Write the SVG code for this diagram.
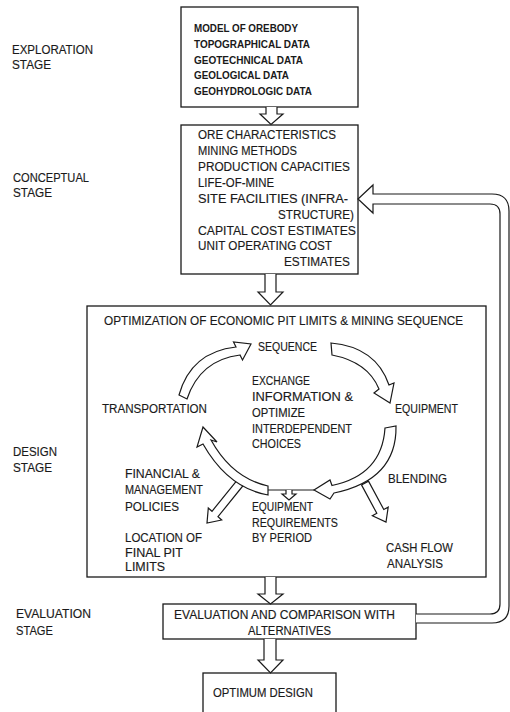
<svg xmlns="http://www.w3.org/2000/svg" width="510" height="712" viewBox="0 0 510 712">
<style>
.bg{fill:#fff}
.box{fill:#fff;stroke:#1a1a1a;stroke-width:1.3}
.ar{fill:#fff;stroke:#1a1a1a;stroke-width:1.2;stroke-linejoin:miter}
.ln{fill:none;stroke:#1a1a1a;stroke-width:1.2}
text{font-family:"Liberation Sans",Arial,sans-serif;font-size:12px;fill:#1a1a1a;stroke:#1a1a1a;stroke-width:0.15}
.b{font-weight:bold;font-size:11.5px;stroke:none}
</style>
<rect class="bg" x="0" y="0" width="510" height="712"/>

<g id="stage-labels">
<text x="12" y="54" textLength="81" lengthAdjust="spacingAndGlyphs">EXPLORATION</text>
<text x="12" y="69" textLength="39" lengthAdjust="spacingAndGlyphs">STAGE</text>
<text x="13" y="182" textLength="76" lengthAdjust="spacingAndGlyphs">CONCEPTUAL</text>
<text x="13" y="197" textLength="39" lengthAdjust="spacingAndGlyphs">STAGE</text>
<text x="13" y="456" textLength="44" lengthAdjust="spacingAndGlyphs">DESIGN</text>
<text x="13" y="472" textLength="39" lengthAdjust="spacingAndGlyphs">STAGE</text>
<text x="16" y="618" textLength="75" lengthAdjust="spacingAndGlyphs">EVALUATION</text>
<text x="16" y="635" textLength="37" lengthAdjust="spacingAndGlyphs">STAGE</text>
</g>

<g id="exploration">
<rect class="box" x="181" y="7" width="177" height="100"/>
<text class="b" x="194" y="32" textLength="104" lengthAdjust="spacingAndGlyphs">MODEL OF OREBODY</text>
<text class="b" x="194" y="47.5" textLength="116" lengthAdjust="spacingAndGlyphs">TOPOGRAPHICAL DATA</text>
<text class="b" x="194" y="63.5" textLength="109" lengthAdjust="spacingAndGlyphs">GEOTECHNICAL DATA</text>
<text class="b" x="194" y="79" textLength="95" lengthAdjust="spacingAndGlyphs">GEOLOGICAL DATA</text>
<text class="b" x="194" y="94.5" textLength="118" lengthAdjust="spacingAndGlyphs">GEOHYDROLOGIC DATA</text>
</g>

<g id="conceptual">
<rect class="box" x="181" y="125" width="177" height="149"/>
<text x="198" y="139" textLength="138" lengthAdjust="spacingAndGlyphs">ORE CHARACTERISTICS</text>
<text x="198" y="155" textLength="99" lengthAdjust="spacingAndGlyphs">MINING METHODS</text>
<text x="198" y="171" textLength="152" lengthAdjust="spacingAndGlyphs">PRODUCTION CAPACITIES</text>
<text x="198" y="187" textLength="76" lengthAdjust="spacingAndGlyphs">LIFE-OF-MINE</text>
<text x="198" y="203" textLength="150" lengthAdjust="spacingAndGlyphs">SITE FACILITIES (INFRA-</text>
<text x="278" y="218.5" textLength="76" lengthAdjust="spacingAndGlyphs">STRUCTURE)</text>
<text x="198" y="234.5" textLength="158" lengthAdjust="spacingAndGlyphs">CAPITAL COST ESTIMATES</text>
<text x="198" y="250" textLength="134" lengthAdjust="spacingAndGlyphs">UNIT OPERATING COST</text>
<text x="284" y="266" textLength="66" lengthAdjust="spacingAndGlyphs">ESTIMATES</text>
</g>

<g id="design">
<rect class="box" x="87" y="306" width="399" height="271"/>
<text x="104" y="325" textLength="359" lengthAdjust="spacingAndGlyphs">OPTIMIZATION OF ECONOMIC PIT LIMITS &amp; MINING SEQUENCE</text>
<text x="258" y="351" textLength="59" lengthAdjust="spacingAndGlyphs">SEQUENCE</text>
<text x="252" y="385" textLength="58" lengthAdjust="spacingAndGlyphs">EXCHANGE</text>
<text x="252" y="401" textLength="101" lengthAdjust="spacingAndGlyphs">INFORMATION &amp;</text>
<text x="252" y="417" textLength="53" lengthAdjust="spacingAndGlyphs">OPTIMIZE</text>
<text x="252" y="433" textLength="100" lengthAdjust="spacingAndGlyphs">INTERDEPENDENT</text>
<text x="252" y="448" textLength="49" lengthAdjust="spacingAndGlyphs">CHOICES</text>
<text x="102" y="413" textLength="105" lengthAdjust="spacingAndGlyphs">TRANSPORTATION</text>
<text x="395" y="413" textLength="63" lengthAdjust="spacingAndGlyphs">EQUIPMENT</text>
<text x="125" y="478" textLength="75" lengthAdjust="spacingAndGlyphs">FINANCIAL &amp;</text>
<text x="125" y="494" textLength="78" lengthAdjust="spacingAndGlyphs">MANAGEMENT</text>
<text x="125" y="511" textLength="54" lengthAdjust="spacingAndGlyphs">POLICIES</text>
<text x="388" y="483" textLength="59" lengthAdjust="spacingAndGlyphs">BLENDING</text>
<text x="252" y="511" textLength="61" lengthAdjust="spacingAndGlyphs">EQUIPMENT</text>
<text x="252" y="527" textLength="86" lengthAdjust="spacingAndGlyphs">REQUIREMENTS</text>
<text x="252" y="542" textLength="60" lengthAdjust="spacingAndGlyphs">BY PERIOD</text>
<text x="125" y="542" textLength="77" lengthAdjust="spacingAndGlyphs">LOCATION OF</text>
<text x="125" y="557" textLength="58" lengthAdjust="spacingAndGlyphs">FINAL PIT</text>
<text x="125" y="571" textLength="40" lengthAdjust="spacingAndGlyphs">LIMITS</text>
<text x="386" y="552" textLength="67" lengthAdjust="spacingAndGlyphs">CASH FLOW</text>
<text x="387" y="568" textLength="56" lengthAdjust="spacingAndGlyphs">ANALYSIS</text>
</g>

<g id="evaluation">
<rect class="box" x="163" y="604" width="253" height="35"/>
<text x="174" y="619" textLength="221" lengthAdjust="spacingAndGlyphs">EVALUATION AND COMPARISON WITH</text>
<text x="248" y="635" textLength="83" lengthAdjust="spacingAndGlyphs">ALTERNATIVES</text>
</g>

<g id="optimum">
<rect class="box" x="203" y="673" width="133" height="50"/>
<text x="213" y="697" textLength="100" lengthAdjust="spacingAndGlyphs">OPTIMUM DESIGN</text>
</g>

<g id="connectors">
<path class="ar" d="M266,107 L266,114 L260,114 L271,124.5 L283,114 L277,114 L277,107"/>
<path class="ar" d="M265,274 L265,292 L258,292 L270.5,305 L283,292 L276,292 L276,274"/>
<path class="ar" d="M265,577 L265,594 L258,594 L270.5,604 L283,594 L276,594 L276,577"/>
<path class="ar" d="M264,639 L264,660 L258,660 L270.5,673 L283,660 L276,660 L276,639"/>
<path class="ar" d="M416,623 L492,623 Q509,623 509,606 L509,211 Q509,194 492,194 L373,194 L373,185 L358,199 L373,213 L373,204 L490,204 Q500,204 500,214 L500,604 Q500,614 490,614 L416,614"/>
<path class="ar" d="M237,480.3 L212,511.3 L208.3,508 L207,523 L221.7,520 L218,516.7 L243,485.7 Z"/>
<path class="ar" d="M361.5,484.9 L376.8,513.3 L372.4,515.7 L386,522 L388.2,507.1 L383.8,509.5 L368.5,481.1 Z"/>
<path class="ar" d="M179,395 Q191,352 236,347 L233.5,342 L251,344 L242.5,360 L240,355 Q200,360 187,399 Z"/>
<path class="ar" d="M331,343 Q376,347 389,385 L394,383 L390,403 L374,393 L379,389 Q368,362 332,355 Z"/>
<path class="ar" d="M385,428 L396,426 Q397,480 334,493 L330,499 L314,490 L330,480 L332,485.5 Q382,475 385,428 Z"/>
<path class="ar" d="M268,486 Q232,478 211,440 L217,442 L203,427 L197,447 L203,444 Q228,488 268,495 Z"/>
<path class="ln" d="M268,490 L314,490"/>
<path class="ar" d="M286,490 L286,494 L282,494 L289,500 L296,494 L292,494 L292,490"/>
</g>
</svg>
